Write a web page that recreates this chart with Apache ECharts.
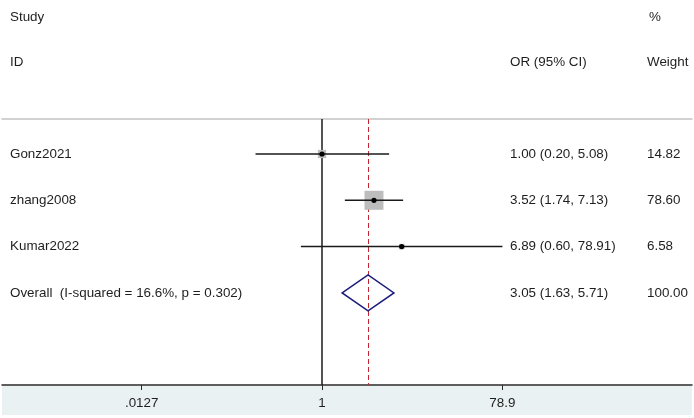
<!DOCTYPE html>
<html>
<head>
<meta charset="utf-8">
<script src="https://cdn.jsdelivr.net/npm/echarts@6/dist/echarts.min.js"></script>
<style>
  html, body { margin: 0; padding: 0; background: #fff; }
  #chart { width: 694px; height: 418px; }
</style>
</head>
<body>
<div id="chart"></div>
<script>
// study data
var studies = ['Gonz2021', 'zhang2008', 'Kumar2022']
var orEst = [1.00, 3.52, 6.89]
var ciLow = [0.20, 1.74, 0.60]
var ciHigh = [5.08, 7.13, 78.91]
var weights = [14.82, 78.60, 6.58]
// pooled estimate
var overallLabel = 'Overall  (I-squared = 16.6%, p = 0.302)'
var overallEst = [3.05, 1.63, 5.71]
var overallWeight = 100.00
// x axis ticks (log scale)
var tickValues = [0.0127, 1, 78.9]
var tickLabels = ['.0127', '1', '78.9']
var tickLn = tickValues.map(function (v) { return Math.log(v) })

var FONT = 'Liberation Sans, Arial, sans-serif'
var FS = '13.4px '
var TXT = '#1e1e1e'
var colName = 10, colOr = 510, colW = 647

function fmt (v) { return v.toFixed(2) }

var chart = echarts.init(document.getElementById('chart'))

var rowData = studies.map(function (s, i) {
  return [Math.log(orEst[i]), i + 1, Math.log(ciLow[i]), Math.log(ciHigh[i]), weights[i]]
})

var option = {
  animation: false,
  backgroundColor: '#fff',
  grid: { left: 2, right: 2, top: 119, bottom: 33 },
  xAxis: [{
    type: 'value',
    min: -7.748,
    max: 8.959,
    splitLine: { show: false },
    axisLine: { onZero: false, lineStyle: { color: '#2a2a2a', width: 1.5 } },
    axisTick: { customValues: tickLn, length: 5, lineStyle: { color: '#2a2a2a' } },
    axisLabel: {
      customValues: tickLn,
      margin: 12,
      color: TXT,
      fontFamily: FONT,
      fontSize: 13.4,
      formatter: function (v) {
        for (var k = 0; k < tickLn.length; k++) {
          if (Math.abs(tickLn[k] - v) < 1e-6) return tickLabels[k]
        }
        return ''
      }
    }
  }, {
    type: 'value',
    position: 'top',
    min: -7.748,
    max: 8.959,
    splitLine: { show: false },
    axisLine: { onZero: false, lineStyle: { color: '#c4c4c4', width: 1.5 } },
    axisTick: { show: false },
    axisLabel: { show: false }
  }],
  yAxis: {
    type: 'value',
    inverse: true,
    min: 0.244,
    max: 5.99,
    show: false
  },
  graphic: [
    { type: 'rect', z: -1, shape: { x: 2, y: 386, width: 690, height: 29 }, style: { fill: '#eaf1f3' } },
    { type: 'text', x: colName, y: 17, style: { text: 'Study', fill: TXT, font: FS + FONT, verticalAlign: 'middle' } },
    { type: 'text', x: 649, y: 17, style: { text: '%', fill: TXT, font: FS + FONT, verticalAlign: 'middle' } },
    { type: 'text', x: colName, y: 62, style: { text: 'ID', fill: TXT, font: FS + FONT, verticalAlign: 'middle' } },
    { type: 'text', x: colOr, y: 62, style: { text: 'OR (95% CI)', fill: TXT, font: FS + FONT, verticalAlign: 'middle' } },
    { type: 'text', x: colW, y: 62, style: { text: 'Weight', fill: TXT, font: FS + FONT, verticalAlign: 'middle' } }
  ],
  series: [{
    type: 'custom',
    data: rowData,
    z: 5,
    renderItem: function (params, api) {
      var i = params.dataIndex
      var c = api.coord([api.value(0), api.value(1)])
      var lo = api.coord([api.value(2), api.value(1)])
      var hi = api.coord([api.value(3), api.value(1)])
      var side = 2.14 * Math.sqrt(api.value(4))
      var ts = { fill: TXT, font: FS + FONT, verticalAlign: 'middle' }
      return {
        type: 'group',
        children: [
          { type: 'rect', shape: { x: c[0] - side / 2, y: c[1] - side / 2, width: side, height: side }, style: { fill: '#bdbdbd' } },
          { type: 'line', shape: { x1: lo[0], y1: lo[1], x2: hi[0], y2: hi[1] }, style: { stroke: '#1a1a1a', lineWidth: 1.5 } },
          { type: 'circle', shape: { cx: c[0], cy: c[1], r: 2.6 }, style: { fill: '#000' } },
          { type: 'text', x: colName, y: c[1], style: Object.assign({ text: studies[i] }, ts) },
          { type: 'text', x: colOr, y: c[1], style: Object.assign({ text: fmt(orEst[i]) + ' (' + fmt(ciLow[i]) + ', ' + fmt(ciHigh[i]) + ')' }, ts) },
          { type: 'text', x: colW, y: c[1], style: Object.assign({ text: fmt(weights[i]) }, ts) }
        ]
      }
    },
    markLine: {
      silent: true,
      symbol: 'none',
      label: { show: false },
      data: [
        { xAxis: 0, lineStyle: { color: '#1a1a1a', width: 1.5, type: 'solid' } },
        { xAxis: Math.log(overallEst[0]), lineStyle: { color: '#c0282d', width: 1, type: [5, 3] } }
      ]
    }
  }, {
    type: 'custom',
    data: [[Math.log(overallEst[0]), 4, Math.log(overallEst[1]), Math.log(overallEst[2])]],
    z: 6,
    renderItem: function (params, api) {
      var row = api.value(1)
      var top = api.coord([api.value(0), row - 0.39])
      var bot = api.coord([api.value(0), row + 0.39])
      var l = api.coord([api.value(2), row])
      var r = api.coord([api.value(3), row])
      var ts = { fill: TXT, font: FS + FONT, verticalAlign: 'middle' }
      return {
        type: 'group',
        children: [
          { type: 'polygon', shape: { points: [l, top, r, bot] }, style: { fill: 'none', stroke: '#1c1c7a', lineWidth: 1.5 } },
          { type: 'text', x: colName, y: l[1], style: Object.assign({ text: overallLabel }, ts) },
          { type: 'text', x: colOr, y: l[1], style: Object.assign({ text: fmt(overallEst[0]) + ' (' + fmt(overallEst[1]) + ', ' + fmt(overallEst[2]) + ')' }, ts) },
          { type: 'text', x: colW, y: l[1], style: Object.assign({ text: fmt(overallWeight) }, ts) }
        ]
      }
    }
  }]
}

chart.setOption(option)
</script>
</body>
</html>
